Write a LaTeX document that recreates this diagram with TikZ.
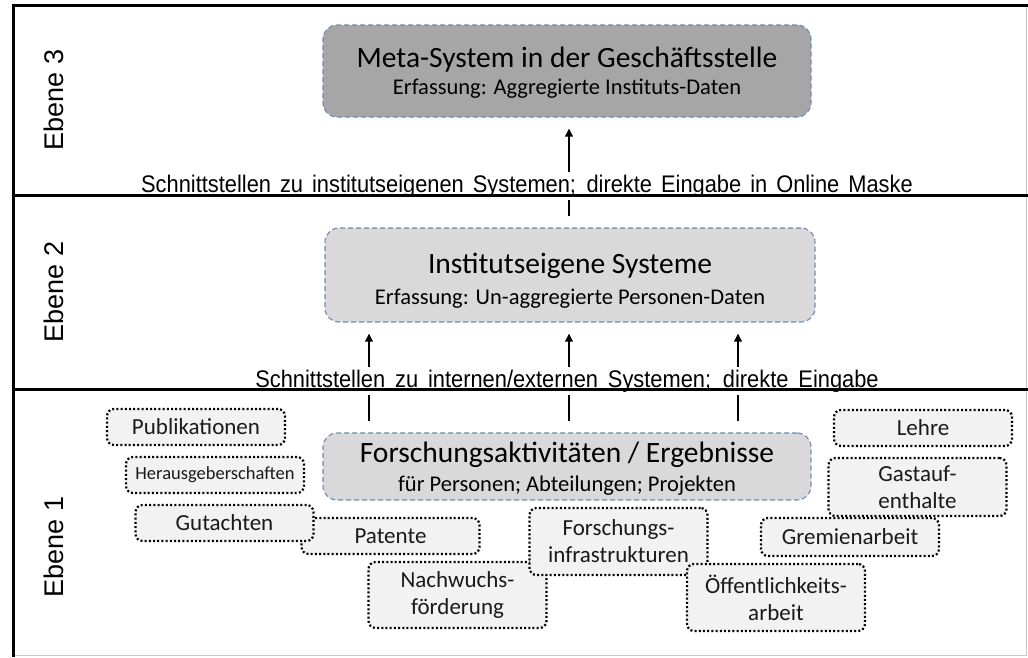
\documentclass[tikz,border=0pt]{standalone}
\usepackage{graphicx}
\usepackage{fontspec}
\setmainfont{Carlito}
\newfontfamily\arialf{Liberation Sans}
\usetikzlibrary{arrows.meta}
\definecolor{metafill}{HTML}{A6A6A6}
\definecolor{midfill}{HTML}{D9D9D9}
\definecolor{smallfill}{HTML}{F2F2F2}
\definecolor{dashblue}{HTML}{6A8CB5}
\definecolor{framegrey}{HTML}{C8C8C8}
\definecolor{textdark}{HTML}{1A1A1A}
\tikzset{
  bigbox/.style={draw=dashblue, line width=1.1pt, dash pattern=on 5pt off 3pt,
    rounded corners=14pt, inner sep=0pt},
  titletext/.style={anchor=base, inner sep=0pt, text=black,
    font=\fontsize{29.5}{32}\selectfont},
  subtext/.style={anchor=base, inner sep=0pt, text=black,
    font=\fontsize{22.5}{26}\selectfont},
  smallbox/.style={draw=black, line width=2.2pt, dash pattern=on 2pt off 2.2pt,
    rounded corners=7pt, fill=smallfill, minimum width=178pt, inner sep=0pt,
    align=center, text=textdark, font=\fontsize{23}{27}\selectfont},
  flowarrow/.style={line width=2.2pt, -{Triangle[length=8pt,width=7.5pt]},
    shorten <=11pt, shorten >=11pt},
  bandline/.style={line width=3pt},
  ebene/.style={rotate=90, font=\arialf\fontsize{27}{30}\selectfont},
  iflabel/.style={anchor=base, fill=white, inner xsep=2pt, inner ysep=3pt,
    font=\arialf\fontsize{24}{26}\selectfont}
}
\begin{document}
\begin{tikzpicture}[x=1pt,y=-1pt]
\useasboundingbox (0,0) rectangle (1028,657);
\fill[white] (0,0) rectangle (1028,657);

% main boxes
\node[bigbox, fill=metafill, minimum width=488pt, minimum height=92pt] (meta) at (567,71) {};
\node[titletext] (metaT) at (567,67) {Meta-System in der Geschäftsstelle};
\node[subtext] (metaS) at (567,94) {Erfassung: Aggregierte Instituts-Daten};

\node[bigbox, fill=midfill, minimum width=490pt, minimum height=94pt] (inst) at (570,275) {};
\node[titletext] (instT) at (570,273) {Institutseigene Systeme};
\node[subtext] (instS) at (570,304) {Erfassung: Un-aggregierte Personen-Daten};

\node[bigbox, fill=midfill, minimum width=488pt, minimum height=67pt] (forsch) at (567,466.5) {};
\node[titletext] (forschT) at (567,462) {Forschungsaktivitäten / Ergebnisse};
\node[subtext] (forschS) at (567,491) {für Personen; Abteilungen; Projekten};

% connectors
\draw[flowarrow] (forsch.north -| 369,0) -- (inst.south -| 369,0);
\draw[flowarrow] (forsch.north -| 569,0) -- (inst.south -| 569,0);
\draw[flowarrow] (forsch.north -| 738,0) -- (inst.south -| 738,0);
\draw[flowarrow] (inst.north -| 569,0) -- (meta.south -| 569,0);

% interface labels
\node[iflabel] (if3) at (527,192)
  {\scalebox{0.91}[1]{\makebox[848pt][s]{Schnittstellen zu institutseigenen Systemen; direkte Eingabe in Online Maske}}};
\node[iflabel] (if2) at (567,387)
  {\scalebox{0.91}[1]{\makebox[685pt][s]{Schnittstellen zu internen/externen Systemen; direkte Eingabe}}};

% frame
\draw[framegrey, line width=1pt] (13,655) -- (1026,655) -- (1026,5);
\draw[bandline] (13,5) -- (1028,5);
\draw[bandline] (13,195) -- (1028,195);
\draw[bandline] (13,389) -- (1028,389);
\draw[bandline] (13,3.5) -- (13,657);

% level labels
\node[ebene] (e3) at (54,100) {Ebene 3};
\node[ebene] (e2) at (54,292) {Ebene 2};
\node[ebene] (e1) at (54,547) {Ebene 1};

% small boxes
\node[smallbox, minimum height=36pt] (publ) at (196,427) {Publikationen};
\node[smallbox, minimum height=36pt, font=\fontsize{18.5}{22}\selectfont] (hrsg) at (215,475) {Herausgeberschaften};
\node[smallbox, minimum height=36pt] (pat) at (390.5,536) {Patente};
\node[smallbox, minimum height=36pt] (gut) at (224.5,523) {Gutachten};
\node[smallbox, minimum height=66pt] (nach) at (457.5,595) {Nachwuchs-\\förderung};
\node[smallbox, minimum height=67pt] (infra) at (618.5,541.5) {Forschungs-\\infrastrukturen};
\node[smallbox, minimum height=67pt] (oeff) at (776,597.5) {Öffentlichkeits-\\arbeit};
\node[smallbox, minimum height=38pt] (grem) at (850,537) {Gremienarbeit};
\node[smallbox, minimum height=36pt] (lehre) at (923,428) {Lehre};
\node[smallbox, minimum height=58pt] (gast) at (917.5,487) {Gastauf-\\enthalte};
\end{tikzpicture}
\end{document}
